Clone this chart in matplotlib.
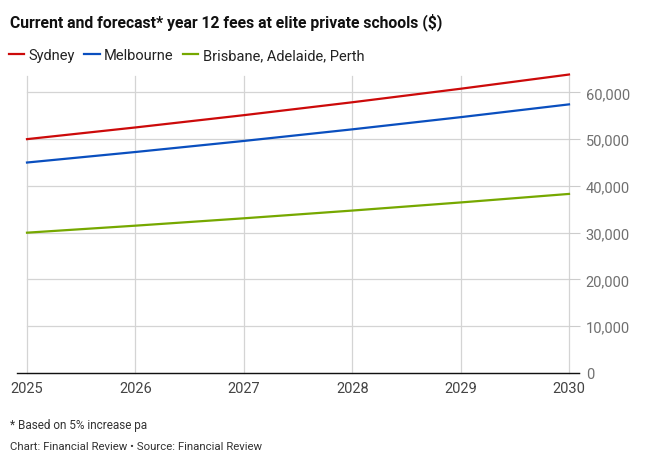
import matplotlib
matplotlib.use("Agg")
import matplotlib.pyplot as plt
from matplotlib.lines import Line2D
from matplotlib.ticker import FuncFormatter

# ==========================================
# Data
# ==========================================
years = [2025, 2026, 2027, 2028, 2029, 2030]
sydney = [50000, 52500, 55125, 57881, 60775, 63814]
melbourne = [45000, 47250, 49613, 52093, 54698, 57433]
bap = [30000, 31500, 33075, 34729, 36465, 38288]

series_names = ["Sydney", "Melbourne", "Brisbane, Adelaide, Perth"]
series_colors = ["#cc0a0a", "#0a4fbf", "#76a800"]
y_ticks = [0, 10000, 20000, 30000, 40000, 50000, 60000]

plt.rcParams["font.family"] = ["Roboto", "DejaVu Sans"]

fig = plt.figure(figsize=(6.49, 4.64), dpi=100)
ax_w = 569 - 27
ax = fig.add_axes([27 / 649, 1 - 374 / 464, ax_w / 649, (374 - 77) / 464])

for vals, name, col in zip([sydney, melbourne, bap], series_names, series_colors):
    ax.plot(years, vals, color=col, lw=1.6, label=name, clip_on=False, zorder=3)

ax.set_xlim(2025, 2030)
ax.set_ylim(0, 63500)
ax.set_xticks(years)
ax.set_yticks(y_ticks)
ax.yaxis.tick_right()
ax.yaxis.set_major_formatter(FuncFormatter(lambda v, p: f"{int(v):,}"))
ax.tick_params(axis="y", length=8, color="#cccccc", labelcolor="#707070", labelsize=10.5, pad=4)
ax.tick_params(axis="x", length=0, labelcolor="#444444", labelsize=10.5, pad=6)
ax.grid(True, color="#d4d4d4", lw=0.9)
for gl in ax.get_xgridlines() + ax.get_ygridlines():
    gl.set_clip_on(False)
ax.set_axisbelow(True)
for s in ["top", "left", "right", "bottom"]:
    ax.spines[s].set_visible(False)

# baseline runs a little past the plot area on both sides
ax.add_line(Line2D([-10 / ax_w, 1 + 10 / ax_w], [0, 0], transform=ax.transAxes,
                   color="#111111", lw=1.0, clip_on=False, zorder=2))

# ==========================================
# Title, legend, notes
# ==========================================
fig.text(10 / 649, 1 - 22 / 464, "Current and forecast* year 12 fees at elite private schools ($)",
         fontsize=11.3, fontweight="bold", color="#111111", va="center")
leg = fig.legend(loc="center left", bbox_to_anchor=(3 / 649, 1 - 56 / 464), ncol=3, frameon=False,
                 fontsize=10.5, handlelength=1.05, handletextpad=0.3, columnspacing=0.65,
                 borderaxespad=0)
for t in leg.get_texts():
    t.set_color("#222222")
fig.text(10 / 649, 1 - 426 / 464, "* Based on 5% increase pa", fontsize=8.5, color="#333333", va="center")
fig.text(10 / 649, 1 - 447 / 464, "Chart: Financial Review \u2022 Source: Financial Review",
         fontsize=8.2, color="#333333", va="center")

fig.savefig("out.png", dpi=100)
